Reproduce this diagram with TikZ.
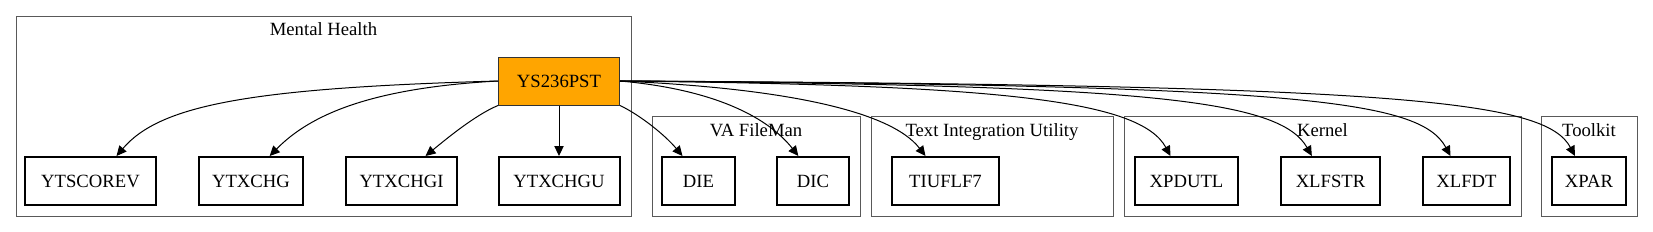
\documentclass[tikz,border=0pt]{standalone}
\usepackage{fontspec}
\setmainfont{Liberation Serif}
\usetikzlibrary{arrows.meta}
\definecolor{gvorange}{HTML}{FFA500}
\tikzset{
  cluster/.style={draw=black!65, line width=0.75pt},
  ctitle/.style={anchor=base, inner sep=0pt, font=\fontsize{14}{16}\selectfont},
  mod/.style={draw, line width=1.5pt, fill=white, minimum height=36pt, inner sep=0pt, font=\fontsize{14}{16}\selectfont},
  mainmod/.style={mod, draw=black!80, line width=0.75pt, fill=gvorange},
  call/.style={-{Triangle[length=7.5pt,width=7pt]}, line width=0.75pt}
}
\begin{document}
\begin{tikzpicture}[x=0.75pt,y=-0.75pt]
\useasboundingbox (0,0) rectangle (1653,232);
% clusters
\draw[cluster] (16,16) rectangle (631,216);
\draw[cluster] (652,116) rectangle (860,216);
\draw[cluster] (871,116) rectangle (1113,216);
\draw[cluster] (1124,116) rectangle (1521,216);
\draw[cluster] (1541,116) rectangle (1637,216);
\node[ctitle] (mhtitle) at (323.5,36) {Mental Health};
\node[ctitle] (vatitle) at (756,136) {VA FileMan};
\node[ctitle] (tiutitle) at (992,136) {Text Integration Utility};
\node[ctitle] (krntitle) at (1322.5,136) {Kernel};
\node[ctitle] (tktitle) at (1589,136) {Toolkit};
% routines
\node[mainmod, minimum width=90.75pt] (ys236pst) at (559,81) {YS236PST};
\node[mod, minimum width=98.25pt] (ytscorev) at (90.5,181) {YTSCOREV};
\node[mod, minimum width=78pt] (ytxchg) at (251,181) {YTXCHG};
\node[mod, minimum width=83.25pt] (ytxchgi) at (401.5,181) {YTXCHGI};
\node[mod, minimum width=90.75pt] (ytxchgu) at (559,181) {YTXCHGU};
\node[mod, minimum width=54.75pt] (die) at (698.5,181) {DIE};
\node[mod, minimum width=54pt] (dic) at (813,181) {DIC};
\node[mod, minimum width=80.25pt] (tiuflf7) at (945.5,181) {TIUFLF7};
\node[mod, minimum width=77.25pt] (xpdutl) at (1186.5,181) {XPDUTL};
\node[mod, minimum width=74.25pt] (xlfstr) at (1330.5,181) {XLFSTR};
\node[mod, minimum width=65.25pt] (xlfdt) at (1466.5,181) {XLFDT};
\node[mod, minimum width=55.5pt] (xpar) at (1589,181) {XPAR};
% calls
\draw[call] (ys236pst.west) .. controls (250,88) and (160,105) .. ([xshift=19.5pt]ytscorev.north);
\draw[call] (ys236pst.west) .. controls (370,88) and (310,115) .. ([xshift=14pt]ytxchg.north);
\draw[call] (ys236pst.south west) .. controls (475,115) and (445,140) .. ([xshift=18pt]ytxchgi.north);
\draw[call] (ys236pst.south) -- (ytxchgu.north);
\draw[call] (ys236pst.south east) .. controls (640,115) and (665,135) .. ([xshift=-12pt]die.north);
\draw[call] (ys236pst.east) .. controls (720,90) and (770,120) .. ([xshift=-11pt]dic.north);
\draw[call] (ys236pst.east) .. controls (780,88) and (890,110) .. ([xshift=-15pt]tiuflf7.north);
\draw[call] (ys236pst.east) .. controls (1000,85) and (1140,100) .. ([xshift=-12pt]xpdutl.north);
\draw[call] (ys236pst.east) .. controls (1150,85) and (1280,100) .. ([xshift=-14pt]xlfstr.north);
\draw[call] (ys236pst.east) .. controls (1300,85) and (1420,100) .. ([xshift=-12pt]xlfdt.north);
\draw[call] (ys236pst.east) .. controls (1400,85) and (1545,100) .. ([xshift=-10.5pt]xpar.north);
\end{tikzpicture}
\end{document}
